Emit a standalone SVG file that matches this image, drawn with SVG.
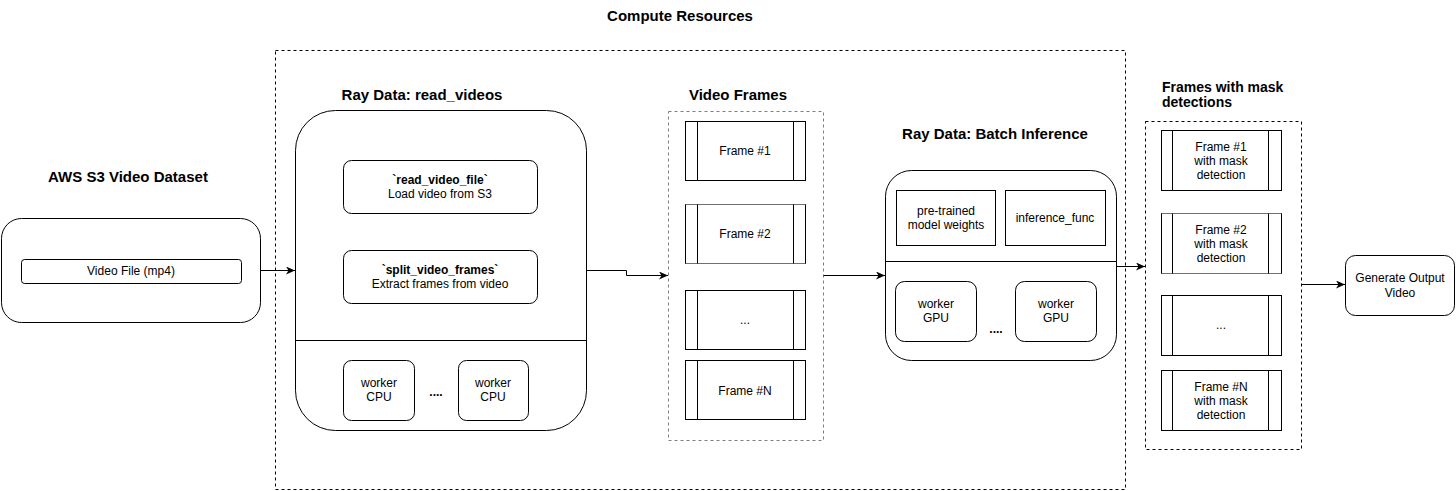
<svg xmlns="http://www.w3.org/2000/svg" width="1456" height="491" viewBox="0 0 1456 491">
<defs>
<marker id="arr" markerWidth="10" markerHeight="8" refX="9" refY="4" orient="auto" markerUnits="userSpaceOnUse">
<path d="M0,0 L9,4 L0,8 L2.5,4 z" fill="#000"/>
</marker>
<style>
text{font-family:"Liberation Sans",Arial,Helvetica,sans-serif;font-size:12px;fill:#000;text-anchor:middle}
.t{font-size:15px;font-weight:bold}
.t14{font-size:14px;font-weight:bold;text-anchor:start}
.b{font-weight:bold}
.box{fill:#fff;stroke:#000;stroke-width:1}
.ln{fill:none;stroke:#000;stroke-width:1}
.dash{fill:none;stroke:#000;stroke-width:1;stroke-dasharray:3 3}
.gdash{fill:none;stroke:#7f7f7f;stroke-width:1;stroke-dasharray:3 3}
.con{fill:none;stroke:#000;stroke-width:1;marker-end:url(#arr)}
</style>
</defs>
<rect width="1456" height="491" fill="#fff"/>

<g id="compute-resources">
<rect class="dash" x="275.5" y="50.5" width="850" height="439"/>
<text class="t" x="680" y="21">Compute Resources</text>
</g>

<g id="s3-dataset">
<text class="t" x="128" y="182">AWS S3 Video Dataset</text>
<rect class="box" x="1.5" y="218.5" width="259" height="104" rx="20"/>
<rect class="box" x="21.5" y="259.5" width="220" height="24" rx="3"/>
<text x="131" y="275">Video File (mp4)</text>
</g>

<g id="read-videos">
<text class="t" x="422" y="100">Ray Data: read_videos</text>
<rect class="box" x="295.5" y="110.5" width="291" height="320" rx="40"/>
<line class="ln" x1="295.5" y1="340.5" x2="586.5" y2="340.5"/>
<rect class="box" x="343.5" y="160.5" width="194" height="53" rx="8"/>
<text class="b" x="440" y="184">`read_video_file`</text>
<text x="440" y="198">Load video from S3</text>
<rect class="box" x="343.5" y="250.5" width="194" height="53" rx="8"/>
<text class="b" x="440" y="274">`split_video_frames`</text>
<text x="440" y="288">Extract frames from video</text>
<rect class="box" x="343.5" y="360.5" width="71" height="60" rx="8"/>
<text x="379" y="387">worker</text>
<text x="379" y="401">CPU</text>
<text class="b" x="436" y="396">....</text>
<rect class="box" x="458.5" y="360.5" width="70" height="60" rx="8"/>
<text x="493" y="387">worker</text>
<text x="493" y="401">CPU</text>
</g>

<g id="video-frames">
<text class="t" x="738" y="100">Video Frames</text>
<rect class="gdash" x="668.5" y="111.5" width="155" height="329"/>
<g id="vf-frame-1">
<rect class="box" x="685.5" y="121.5" width="120" height="59"/>
<line class="ln" x1="697.5" y1="121.5" x2="697.5" y2="180.5"/>
<line class="ln" x1="793.5" y1="121.5" x2="793.5" y2="180.5"/>
<text x="745" y="155">Frame #1</text>
</g>
<g id="vf-frame-2">
<rect x="685.5" y="204.5" width="120" height="59" fill="#fff" stroke="#707070"/>
<line class="ln" x1="685.5" y1="204.5" x2="685.5" y2="263.5"/>
<line class="ln" x1="805.5" y1="204.5" x2="805.5" y2="263.5"/>
<line class="ln" x1="697.5" y1="204.5" x2="697.5" y2="263.5"/>
<line class="ln" x1="793.5" y1="204.5" x2="793.5" y2="263.5"/>
<text x="745" y="238">Frame #2</text>
</g>
<g id="vf-frame-dots">
<rect class="box" x="685.5" y="290.5" width="120" height="59"/>
<line class="ln" x1="697.5" y1="290.5" x2="697.5" y2="349.5"/>
<line class="ln" x1="793.5" y1="290.5" x2="793.5" y2="349.5"/>
<text x="745" y="324">...</text>
</g>
<g id="vf-frame-n">
<rect class="box" x="685.5" y="360.5" width="120" height="59"/>
<line class="ln" x1="697.5" y1="360.5" x2="697.5" y2="419.5"/>
<line class="ln" x1="793.5" y1="360.5" x2="793.5" y2="419.5"/>
<text x="745" y="395">Frame #N</text>
</g>
</g>

<g id="batch-inference">
<text class="t" x="995" y="139">Ray Data: Batch Inference</text>
<rect class="box" x="885.5" y="170.5" width="231" height="190" rx="26"/>
<line class="ln" x1="885.5" y1="261.5" x2="1116.5" y2="261.5"/>
<rect class="box" x="896.5" y="190.5" width="99" height="55"/>
<text x="946" y="215">pre-trained</text>
<text x="946" y="229">model weights</text>
<rect class="box" x="1005.5" y="190.5" width="100" height="55"/>
<text x="1055" y="222">inference_func</text>
<rect class="box" x="895.5" y="281.5" width="81" height="60" rx="9"/>
<text x="936" y="308">worker</text>
<text x="936" y="322">GPU</text>
<text class="b" x="996" y="333">....</text>
<rect class="box" x="1015.5" y="281.5" width="81" height="60" rx="9"/>
<text x="1056" y="308">worker</text>
<text x="1056" y="322">GPU</text>
</g>

<g id="frames-with-mask">
<text class="t14" x="1162" y="92">Frames with mask</text>
<text class="t14" x="1162" y="107">detections</text>
<rect class="dash" x="1145.5" y="121.5" width="156" height="328"/>
<g id="fm-frame-1">
<rect class="box" x="1161.5" y="130.5" width="120" height="60"/>
<line class="ln" x1="1172.5" y1="130.5" x2="1172.5" y2="190.5"/>
<line class="ln" x1="1268.5" y1="130.5" x2="1268.5" y2="190.5"/>
<text x="1221" y="151">Frame #1</text>
<text x="1221" y="165">with mask</text>
<text x="1221" y="179">detection</text>
</g>
<g id="fm-frame-2">
<rect x="1161.5" y="213.5" width="120" height="60" fill="#fff" stroke="#707070"/>
<line class="ln" x1="1161.5" y1="213.5" x2="1161.5" y2="273.5"/>
<line class="ln" x1="1281.5" y1="213.5" x2="1281.5" y2="273.5"/>
<line class="ln" x1="1172.5" y1="213.5" x2="1172.5" y2="273.5"/>
<line class="ln" x1="1268.5" y1="213.5" x2="1268.5" y2="273.5"/>
<text x="1221" y="234">Frame #2</text>
<text x="1221" y="248">with mask</text>
<text x="1221" y="262">detection</text>
</g>
<g id="fm-frame-dots">
<rect class="box" x="1161.5" y="295.5" width="120" height="60"/>
<line class="ln" x1="1172.5" y1="295.5" x2="1172.5" y2="355.5"/>
<line class="ln" x1="1268.5" y1="295.5" x2="1268.5" y2="355.5"/>
<text x="1221" y="329">...</text>
</g>
<g id="fm-frame-n">
<rect class="box" x="1161.5" y="370.5" width="120" height="60"/>
<line class="ln" x1="1172.5" y1="370.5" x2="1172.5" y2="430.5"/>
<line class="ln" x1="1268.5" y1="370.5" x2="1268.5" y2="430.5"/>
<text x="1221" y="391">Frame #N</text>
<text x="1221" y="405">with mask</text>
<text x="1221" y="419">detection</text>
</g>
</g>

<g id="generate-output">
<rect class="box" x="1345.5" y="255.5" width="109" height="60" rx="10"/>
<text x="1400" y="282">Generate Output</text>
<text x="1400" y="297">Video</text>
</g>

<g id="connectors">
<path class="con" d="M260.5,270.5 L295,270.5"/>
<path class="con" d="M586.5,270.5 L626.5,270.5 L626.5,275.5 L668,275.5"/>
<path class="con" d="M823.5,275.5 L885,275.5"/>
<path class="con" d="M1116.5,266.5 L1145,266.5"/>
<path class="con" d="M1301.5,284.5 L1345,284.5"/>
</g>
</svg>
